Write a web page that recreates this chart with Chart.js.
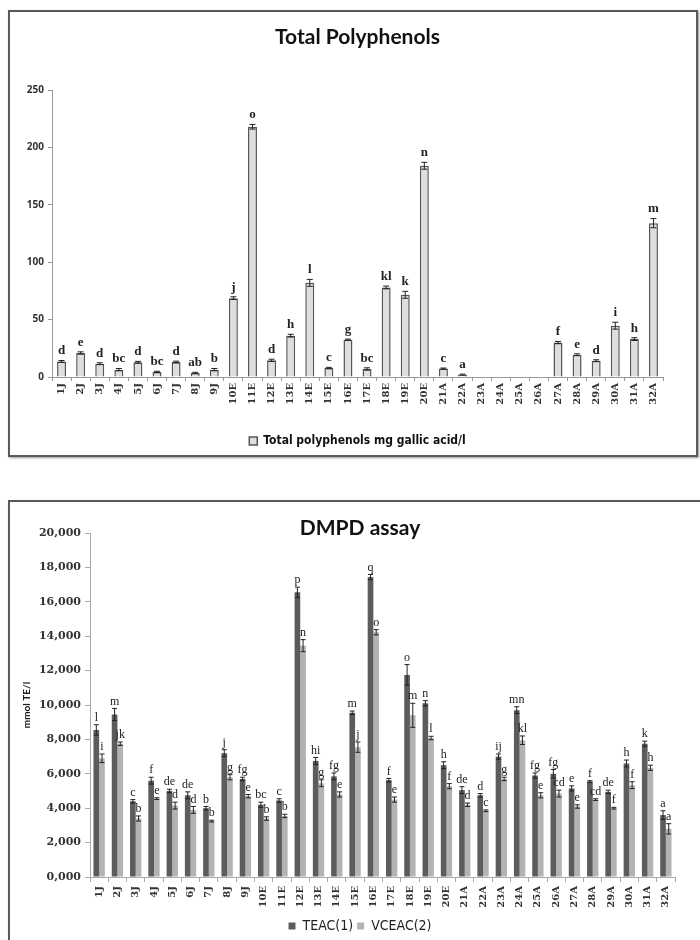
<!DOCTYPE html>
<html>
<head>
<meta charset="utf-8">
<script src="https://cdn.jsdelivr.net/npm/chart.js"></script>
<style>
  html, body { margin: 0; padding: 0; background: #fff; width: 700px; height: 940px; overflow: hidden; position: relative; }
  .box { position: absolute; border: 2px solid #5a5a5a; box-shadow: 1px 1px 2px #999; }
  canvas { position: absolute; }
</style>
</head>
<body>
<div class="box" style="left:8px; top:10px; width:686px; height:443px;"></div>
<div class="box" style="left:8px; top:500px; width:700px; height:450px;"></div>
<canvas id="tp-chart" width="690" height="455" style="left:10px; top:10px;"></canvas>
<canvas id="dmpd-chart" width="700" height="460" style="left:10px; top:500px;"></canvas>
<script>
var samples = ['1J','2J','3J','4J','5J','6J','7J','8J','9J','10E','11E','12E','13E','14E','15E','16E','17E','18E','19E','20E',
    '21A','22A','23A','24A','25A','26A','27A','28A','29A','30A','31A','32A'];

var polyphenols = [13.6, 20.9, 11.6, 6.4, 12.8, 4.4, 13, 3.5, 6.4, 68.7, 218, 14.5, 36, 82, 7.8, 32.5,
    7, 78, 71.6, 184, 7.3, 2, 0, 0, 0, 0, 30, 19.4, 14.2, 44.7, 33, 134];
var polyphenolsErr = [0.8, 1, 0.8, 1, 0.8, 0.6, 0.8, 0.6, 1, 1.2, 2, 1, 1.2, 3, 0.6, 0.5,
    1, 1.2, 3, 3, 0.5, 0.5, 0, 0, 0, 0, 1, 0.8, 0.8, 3, 1.2, 4];
var polyphenolsLetters = ['d','e','d','bc','d','bc','d','ab','b','j','o','d','h','l','c','g',
    'bc','kl','k','n','c','a','','','','','f','e','d','i','h','m'];
var tpTicks = ['0','50','100','150','200','250'];

var teac = [8550, 9450, 4400, 5600, 5000, 4750, 4000, 7200, 5700, 4200, 4450, 16550, 6750, 5850, 9550, 17440,
    5630, 11750, 10100, 6500, 5050, 4750, 7000, 9700, 5900, 6000, 5150, 5550, 4950, 6600, 7750, 3600];
var teacErr = [300, 350, 100, 200, 100, 200, 100, 200, 100, 150, 100, 300, 200, 200, 100, 150,
    100, 600, 150, 200, 200, 100, 150, 200, 150, 250, 150, 50, 100, 200, 150, 250];
var teacLetters = ['l','m','c','f','de','de','b','j','fg','bc','c','p','hi','fg','m','q',
    'f','o','n','h','de','d','ij','mn','fg','fg','e','f','de','h','k','a'];

var vceac = [6900, 7750, 3400, 4560, 4150, 3900, 3250, 5800, 4700, 3400, 3550, 13450, 5450, 4800, 7550, 14230,
    4500, 9400, 8080, 5280, 4200, 3850, 5700, 7950, 4750, 4850, 4100, 4500, 4000, 5340, 6350, 2800];
var vceacErr = [250, 100, 150, 50, 200, 200, 50, 150, 100, 100, 100, 350, 200, 150, 300, 150,
    150, 700, 100, 150, 100, 50, 100, 250, 150, 200, 100, 50, 50, 200, 150, 300];
var vceacLetters = ['i','jk','b','e','d','d','b','g','e','b','b','n','g','e','j','o',
    'e','m','l','f','d','c','g','kl','e','cd','e','cd','f','f','h','a'];
var dmpdTicks = ['0,000','2,000','4,000','6,000','8,000','10,000','12,000','14,000','16,000','18,000','20,000'];

var labelFont = {family: 'DejaVu Serif', weight: 'bold', size: 10};

// error bars + significance letters drawn on top of the bars
function errorBars(errors, letters, font, cap, gap) {
    return {
        id: 'errorBars',
        afterDatasetsDraw: function(chart) {
            var ctx = chart.ctx;
            var y = chart.scales.y;
            ctx.save();
            ctx.strokeStyle = '#222';
            ctx.fillStyle = '#222';
            ctx.lineWidth = 1;
            ctx.font = font;
            ctx.textAlign = 'center';
            ctx.textBaseline = 'bottom';
            chart.data.datasets.forEach(function(ds, d) {
                chart.getDatasetMeta(d).data.forEach(function(bar, i) {
                    var v = ds.data[i];
                    var e = errors[d][i];
                    var top = y.getPixelForValue(v + e);
                    var bot = y.getPixelForValue(v - e);
                    if (e > 0) {
                        ctx.beginPath();
                        ctx.moveTo(bar.x, top); ctx.lineTo(bar.x, bot);
                        ctx.moveTo(bar.x - cap, top); ctx.lineTo(bar.x + cap, top);
                        ctx.moveTo(bar.x - cap, bot); ctx.lineTo(bar.x + cap, bot);
                        ctx.stroke();
                    }
                    if (letters[d][i]) {
                        ctx.fillText(letters[d][i], bar.x, Math.min(top, y.getPixelForValue(v)) - gap);
                    }
                });
            });
            ctx.restore();
        }
    };
}

new Chart(document.getElementById('tp-chart'), {
    type: 'bar',
    data: {
        labels: samples,
        datasets: [{
            label: 'Total polyphenols mg gallic acid/l',
            data: polyphenols,
            backgroundColor: '#dedede',
            borderColor: '#555',
            borderWidth: 1.5,
            borderSkipped: 'bottom',
            barPercentage: 0.47,
            categoryPercentage: 1
        }]
    },
    options: {
        responsive: false,
        animation: false,
        layout: {padding: {left: 0, right: 37, top: 0, bottom: 8}},
        plugins: {
            title: {
                display: true,
                text: 'Total Polyphenols',
                fullSize: false,
                color: '#111',
                font: {family: 'Lato', weight: 'bold', size: 21},
                padding: {top: 14.4, bottom: 40.4}
            },
            legend: {
                position: 'bottom',
                fullSize: false,
                labels: {
                    color: '#111',
                    boxWidth: 8,
                    boxHeight: 8,
                    padding: 6,
                    font: {family: "'Liberation Sans Narrow', 'DejaVu Sans Condensed', sans-serif", weight: 'bold', size: 12}
                }
            },
            tooltip: {enabled: false}
        },
        scales: {
            x: {
                afterFit: function(s) { s.height = 52; },
                grid: {drawOnChartArea: false, tickLength: 4, color: '#999'},
                border: {color: '#999'},
                ticks: {font: labelFont, color: '#333', minRotation: 90, maxRotation: 90, autoSkip: false, padding: 2}
            },
            y: {
                min: 0, max: 250,
                afterFit: function(s) { s.width = 42; },
                grid: {drawOnChartArea: false, tickLength: 4, color: '#999'},
                border: {color: '#999'},
                ticks: {
                    stepSize: 50, padding: 4, color: '#333',
                    font: {family: 'Open Sans', weight: 'bold', size: 10},
                    callback: function(v, i) { return tpTicks[i]; }
                }
            }
        }
    },
    plugins: [errorBars([polyphenolsErr], [polyphenolsLetters], 'bold 13px "Liberation Serif"', 3, 3)]
});

new Chart(document.getElementById('dmpd-chart'), {
    type: 'bar',
    data: {
        labels: samples,
        datasets: [{
            label: 'TEAC(1)',
            data: teac,
            backgroundColor: '#5c5c5c',
            barPercentage: 1,
            categoryPercentage: 0.62
        }, {
            label: 'VCEAC(2)',
            data: vceac,
            backgroundColor: '#b3b3b3',
            barPercentage: 1,
            categoryPercentage: 0.62
        }]
    },
    options: {
        responsive: false,
        animation: false,
        layout: {padding: {left: 0, right: 0, top: 0, bottom: 17}},
        plugins: {
            title: {
                display: true,
                text: 'DMPD assay',
                color: '#111',
                font: {family: 'Lato', weight: 'bold', size: 21},
                padding: {top: 15.4, bottom: -7.6}
            },
            legend: {
                position: 'bottom',
                labels: {
                    color: '#222',
                    boxWidth: 7,
                    boxHeight: 7,
                    padding: 4,
                    font: {family: "'Liberation Sans Narrow', 'DejaVu Sans Condensed', sans-serif", size: 14}
                }
            },
            tooltip: {enabled: false}
        },
        scales: {
            x: {
                afterFit: function(s) { s.height = 38; },
                grid: {drawOnChartArea: false, tickLength: 5, color: '#aaa'},
                border: {color: '#aaa'},
                ticks: {font: labelFont, color: '#333', minRotation: 90, maxRotation: 90, autoSkip: false, padding: 4}
            },
            y: {
                min: 0, max: 20000,
                afterFit: function(s) { s.width = 80; },
                title: {
                    display: true,
                    text: 'mmol TE/l',
                    color: '#222',
                    font: {family: 'Lato', weight: 'bold', size: 10},
                    padding: {top: 11, bottom: 0}
                },
                grid: {drawOnChartArea: false, tickLength: 5, color: '#aaa'},
                border: {color: '#aaa'},
                ticks: {
                    stepSize: 2000, padding: 4, color: '#333',
                    font: {family: 'DejaVu Serif', weight: 'bold', size: 11},
                    callback: function(v, i) { return dmpdTicks[i]; }
                }
            },
            // empty right-hand margin so the title centres like the original
            spare: {
                position: 'right',
                afterFit: function(s) { s.width = 35; },
                grid: {display: false},
                border: {display: false},
                ticks: {display: false}
            }
        }
    },
    plugins: [errorBars([teacErr, vceacErr], [teacLetters, vceacLetters], '12px "Liberation Serif"', 2.5, 1)]
});
</script>
</body>
</html>
